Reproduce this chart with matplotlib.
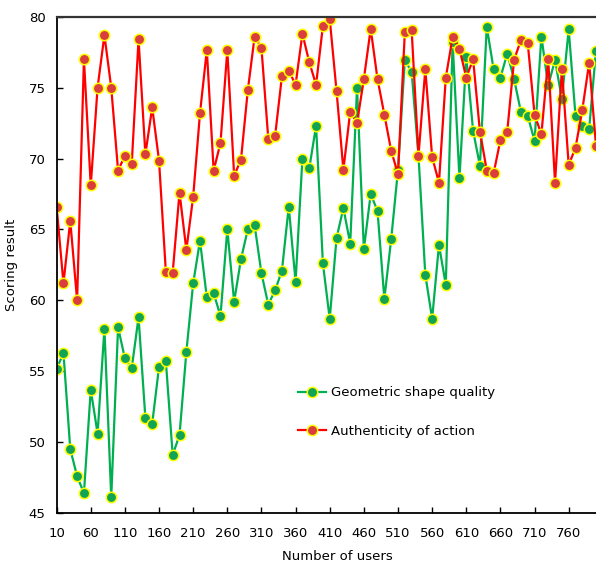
import matplotlib
matplotlib.use('Agg')
import matplotlib.pyplot as plt

# number of users, one point every 10
users = list(range(10, 810, 10))

geometric = [55.15, 56.3, 49.5, 47.6, 46.4, 53.7, 50.6, 58.0, 46.1, 58.1,
             55.9, 55.2, 58.8, 51.7, 51.3, 55.3, 55.7, 49.1, 50.5, 56.35,
             61.2, 64.2, 60.2, 60.5, 58.9, 65.0, 59.9, 62.9, 65.0, 65.3,
             61.9, 59.7, 60.7, 62.1, 66.6, 61.3, 70.0, 69.3, 72.3, 62.6,
             58.7, 64.4, 66.5, 64.0, 74.95, 63.6, 67.5, 66.3, 60.1, 64.3,
             69.2, 76.95, 76.1, 70.2, 61.8, 58.7, 63.9, 61.1, 78.2, 68.6,
             77.15, 71.95, 69.5, 79.3, 76.3, 75.7, 77.4, 75.6, 73.3, 73.0,
             71.25, 78.6, 75.15, 76.95, 74.2, 79.1, 73.0, 72.3, 72.1, 77.6]

authenticity = [66.6, 61.2, 65.6, 60.0, 77.0, 68.1, 75.0, 78.7, 75.0, 69.15,
                70.2, 69.6, 78.4, 70.3, 73.6, 69.85, 62.0, 61.95, 67.6, 63.55,
                67.3, 73.2, 77.65, 69.15, 71.1, 77.65, 68.8, 69.9, 74.8, 78.6,
                77.8, 71.4, 71.6, 75.8, 76.2, 75.2, 78.8, 76.8, 75.2, 79.35,
                79.85, 74.75, 69.2, 73.3, 72.5, 75.6, 79.15, 75.6, 73.1, 70.55,
                68.9, 78.9, 79.05, 70.2, 76.3, 70.1, 68.3, 75.7, 78.55, 77.75,
                75.7, 77.0, 71.9, 69.15, 68.95, 71.3, 71.9, 76.95, 78.35, 78.15,
                73.1, 71.7, 77.0, 68.3, 76.3, 69.55, 70.75, 73.45, 76.75, 70.9]

xticks = list(range(10, 800, 50))
yticks = [45, 50, 55, 60, 65, 70, 75, 80]

plt.rcParams['font.family'] = ['DejaVu Sans']

fig = plt.figure(figsize=(5.96, 5.64), dpi=100)
ax = fig.add_axes([0.095, 0.0904, 0.905, 0.8800])

ax.plot(users, geometric, '-o', color='#00b050', lw=1.6,
        markerfacecolor='#12a455', markeredgecolor='#ffff00',
        markeredgewidth=1.1, markersize=7.5, label='Geometric shape quality')
ax.plot(users, authenticity, '-o', color='#ff0000', lw=1.6,
        markerfacecolor='#d93d3d', markeredgecolor='#ffff00',
        markeredgewidth=1.1, markersize=7.5, label='Authenticity of action')

ax.set_xlim(10, 800)
ax.set_ylim(45, 80)
ax.set_xticks(xticks)
ax.set_yticks(yticks)
ax.tick_params(direction='in', length=4, width=1, labelsize=9.5, colors='black')
ax.tick_params(axis='x', pad=10)
ax.tick_params(axis='y', pad=8)

for s in ['left', 'bottom']:
    ax.spines[s].set_linewidth(1.3)
ax.spines['top'].set_linewidth(1.6)
ax.spines['top'].set_color('#333333')
ax.spines['right'].set_visible(False)

ax.set_xlabel('Number of users', fontsize=9.5)
ax.set_ylabel('Scoring result', fontsize=9.5)
ax.xaxis.set_label_coords(0.52, -0.075)
ax.yaxis.set_label_coords(-0.072, 0.5)

ax.legend(loc='center left', bbox_to_anchor=(298 / 596, 1 - 412 / 564),
          bbox_transform=fig.transFigure, frameon=False, fontsize=9.5,
          handlelength=2.1, handletextpad=0.4, labelspacing=1.9,
          borderpad=0, borderaxespad=0)

plt.savefig('out.png', dpi=100)
